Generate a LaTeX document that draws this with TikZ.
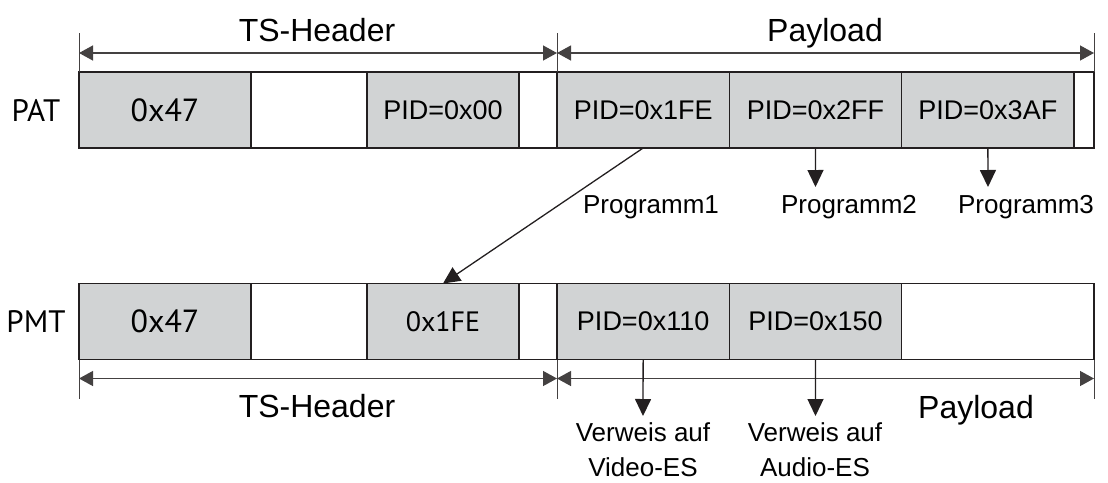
\documentclass[tikz,border=0pt]{standalone}
\usepackage{fontspec}
\setmainfont{Liberation Sans}
\newfontfamily\rowfont{PT Sans}
\usetikzlibrary{arrows.meta}
\definecolor{cellgray}{RGB}{209,211,212}
\definecolor{inkblack}{RGB}{35,31,32}

\begin{document}
\begin{tikzpicture}[x=1pt, y=-1pt,
  cell/.style={rectangle, draw=inkblack, line width=1.1pt, minimum height=76pt, inner sep=0pt, outer sep=0pt, anchor=west},
  shaded/.style={cell, fill=cellgray},
  dimline/.style={{Triangle[length=14pt,width=15pt]}-{Triangle[length=14pt,width=15pt]}, line width=1.3pt, draw=inkblack!85},
  pointer/.style={-{Triangle[length=17pt,width=16pt]}, line width=1.3pt, draw=inkblack},
  extline/.style={line width=0.9pt, draw=inkblack!85},
  headtext/.style={font=\fontsize{32}{36}\selectfont, anchor=base},
  pidtext/.style={font=\fontsize{27}{30}\selectfont},
  synctext/.style={font=\rowfont\fontsize{32}{36}\selectfont},
  notetext/.style={font=\fontsize{26}{35}\selectfont, align=center}]
	\useasboundingbox (0,0) rectangle (1108,482);
	
	% PAT packet
	\node (patname) [font=\rowfont\fontsize{31}{34}\selectfont] at (36,110) {PAT};
	\node (patsync) [shaded, minimum width=172pt, synctext] at (79,110) {0x47};
	\node (patgap) [cell, minimum width=116pt] at (251,110) {};
	\node (patpid) [shaded, minimum width=152pt, pidtext] at (367,110) {PID=0x00};
	\node (patpad) [cell, minimum width=38pt] at (519,110) {};
	\node (patprog1) [shaded, minimum width=172.3pt, pidtext] at (557,110) {PID=0x1FE};
	\node (patprog2) [shaded, minimum width=172.3pt, pidtext] at (729.3,110) {PID=0x2FF};
	\node (patprog3) [shaded, minimum width=172.3pt, pidtext] at (901.7,110) {PID=0x3AF};
	\node (patend) [cell, minimum width=20pt] at (1074,110) {};
	
	% PMT packet
	\node (pmtname) [font=\rowfont\fontsize{31}{34}\selectfont] at (36,321.5) {PMT};
	\node (pmtsync) [shaded, minimum width=172pt, synctext] at (79,321.5) {0x47};
	\node (pmtgap) [cell, minimum width=116pt] at (251,321.5) {};
	\node (pmtpid) [shaded, minimum width=152pt, font=\rowfont\fontsize{28}{30}\selectfont] at (367,321.5) {0x1FE};
	\node (pmtpad) [cell, minimum width=38pt] at (519,321.5) {};
	\node (pmtvideo) [shaded, minimum width=172.3pt, pidtext] at (557,321.5) {PID=0x110};
	\node (pmtaudio) [shaded, minimum width=172.3pt, pidtext] at (729.3,321.5) {PID=0x150};
	\node (pmtrest) [cell, minimum width=192.3pt] at (901.7,321.5) {};
	
	% dimension lines
	\draw [extline] (patsync.north west) -- ++(0,-39);
	\draw [extline] (patprog1.north west) -- ++(0,-39);
	\draw [extline] (patend.north east) -- ++(0,-39);
	\coordinate (tophead) at (0,53);
	\draw [dimline] (patsync.north west |- tophead) -- (patprog1.north west |- tophead);
	\draw [dimline] (patprog1.north west |- tophead) -- (patend.north east |- tophead);
	\node (tophdr) [headtext] at (317,41) {TS-Header};
	\node (toppay) [headtext] at (825,41) {Payload};
	
	\draw [extline] (pmtsync.south west) -- ++(0,39);
	\draw [extline] (pmtvideo.south west) -- ++(0,39);
	\draw [extline] (pmtrest.south east) -- ++(0,39);
	\coordinate (bothead) at (0,378.5);
	\draw [dimline] (pmtsync.south west |- bothead) -- (pmtvideo.south west |- bothead);
	\draw [dimline] (pmtvideo.south west |- bothead) -- (pmtrest.south east |- bothead);
	\node (bothdr) [headtext] at (317,417) {TS-Header};
	\node (botpay) [headtext] at (976,418) {Payload};
	
	% program references
	\draw [pointer] (patprog1.south) -- (pmtpid.north);
	\node (prog1) [notetext, anchor=base] at (651,213) {Programm1};
	\node (prog2) [notetext, anchor=base] at (849,213) {Programm2};
	\node (prog3) [notetext, anchor=base] at (1026,213) {Programm3};
	\coordinate (prog2tip) at (815.5,187);
	\coordinate (prog3tip) at (988,187);
	\draw [pointer] (patprog2.south) -- (prog2tip);
	\draw [pointer] (patprog3.south) -- (prog3tip);
	
	% stream references
	\node (videoref) [notetext, anchor=base] at (643,476) {Verweis auf\\Video-ES};
	\node (audioref) [notetext, anchor=base] at (815,476) {Verweis auf\\Audio-ES};
	\coordinate (videotip) at (643,416);
	\coordinate (audiotip) at (815.5,416);
	\draw [pointer] (pmtvideo.south) -- (videotip);
	\draw [pointer] (pmtaudio.south) -- (audiotip);
	
\end{tikzpicture}
\end{document}
